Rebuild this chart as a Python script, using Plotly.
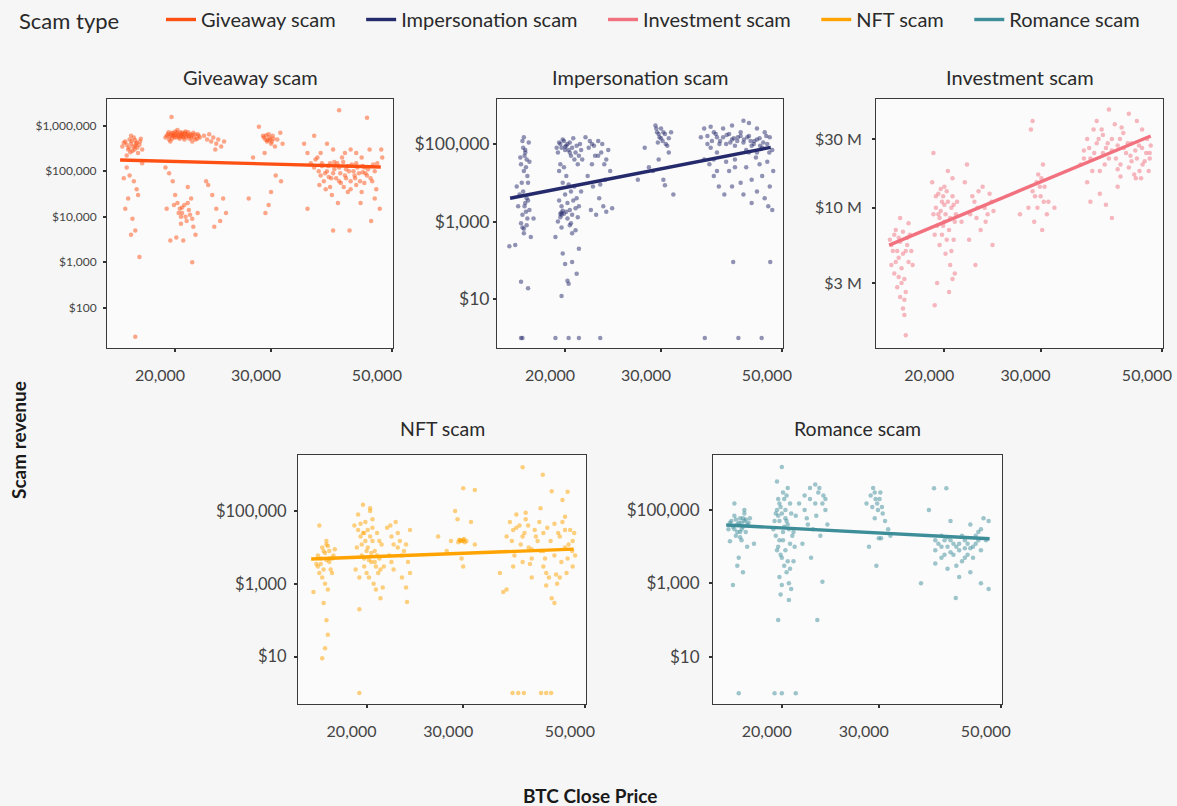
import plotly.graph_objects as go

# ---------------- data ----------------
scam_types = ["Giveaway scam", "Impersonation scam", "Investment scam", "NFT scam", "Romance scam"]
colors = ["#FF5014", "#252A6C", "#F2717F", "#FFA300", "#3E8E99"]

giveaway_pts = [
    (16000,350000),(16200,450000),(16400,300000),(16500,500000),(16600,400000),(16700,280000),(16800,550000),
    (16900,350000),(17000,420000),(17100,250000),(17200,380000),(17400,300000),(16300,220000),(16900,480000),
    (17300,520000),(16600,600000),(16300,120000),(16500,80000),(16800,60000),(17000,40000),(16400,25000),
    (16200,15000),(16700,9000),(16900,5000),(17100,30000),(16600,4000),(17200,1300),(16900,23),(17400,150000),
    (16100,70000),(16100,420000),(16300,380000),(16450,330000),(16650,460000),(16750,350000),(16850,300000),
    (17050,330000),(17250,450000),(16550,260000),(16950,400000),
    (19200,550000),(19400,650000),(19500,500000),(19700,700000),(19800,600000),(20000,750000),(20100,550000),
    (20300,650000),(20500,600000),(20600,700000),(20800,500000),(21000,650000),(21200,600000),(21400,550000),
    (21600,700000),(21800,500000),(19600,450000),(20200,800000),(20900,750000),(21500,450000),(19700,1550000),
    (22000,650000),(22200,550000),(19900,620000),(20400,520000),(20700,560000),
    (19300,600000),(19450,720000),(19550,580000),(19650,630000),(19750,520000),(19850,680000),(19950,560000),
    (20050,640000),(20150,700000),(20250,600000),(20350,560000),(20450,720000),(20550,650000),(20650,580000),
    (20750,640000),(20850,700000),(20950,560000),(21050,600000),(21150,720000),(21250,520000),(21350,650000),
    (21450,620000),(21650,560000),(21750,640000),(21950,520000),(22100,600000),
    (19200,120000),(19500,90000),(19800,60000),(20000,30000),(20200,20000),(20400,15000),(20600,12000),
    (20800,18000),(21000,8000),(21200,14000),(21400,25000),(21600,6000),(21800,4000),(19600,3000),(20100,3500),
    (20500,10000),(20700,3000),(21100,45000),(21500,9000),(19300,15000),(19900,18000),(22000,12000),(21500,1000),
    (20300,12000),(20600,16000),(20900,10000),(21100,20000),(21300,11000),(20500,7000),
    (22600,600000),(22900,500000),(23100,650000),(23300,450000),(23500,550000),(23800,400000),(24000,500000),
    (24300,350000),(24600,450000),(23700,300000),
    (23000,50000),(23400,30000),(23800,15000),(24200,8000),(24500,25000),(22800,60000),(24800,12000),(23600,6000),
    (27800,200000),(28500,950000),(29000,600000),(29300,500000),(29500,450000),(29800,550000),(30000,400000),
    (30200,600000),(30500,350000),(30800,500000),(31200,700000),(31500,400000),(29200,250000),(30600,80000),
    (30000,35000),(29300,12000),(29700,18000),(27300,25000),(31300,60000),
    (29100,550000),(29400,620000),(29600,480000),(29900,500000),(30100,450000),(30300,520000),(29700,650000),
    (34500,400000),(35000,250000),(35500,150000),(36000,120000),(36500,200000),(37000,80000),(37500,60000),
    (38000,100000),(38500,150000),(39000,90000),(39500,70000),(40000,120000),(40500,200000),(41000,80000),
    (41500,130000),(42000,60000),(42500,100000),(43000,150000),(43500,90000),(44000,200000),(44500,120000),
    (45000,80000),(45500,300000),(46000,60000),(46500,100000),(47000,150000),(36800,50000),(37800,40000),
    (38800,30000),(39800,20000),(40800,45000),(41800,5000),(43800,20000),(45800,8000),(47500,15000),
    (40000,2200000),(45000,1500000),(47800,300000),(36000,600000),(38000,400000),(42000,300000),(44000,35000),
    (35000,15000),(39000,5000),(46500,25000),(48000,200000),(41000,250000),(43000,50000),(37200,130000),
    (39200,160000),(41200,110000),(42800,70000),(44200,95000),(38300,75000),(40300,55000),
    (36200,180000),(36700,100000),(37200,150000),(37700,90000),(38200,130000),(38700,70000),(39200,110000),
    (39700,150000),(40200,90000),(40700,160000),(41200,70000),(41700,100000),(42200,140000),(42700,80000),
    (43200,120000),(43700,60000),(44200,130000),(44700,90000),(45200,110000),(45700,70000),(46200,140000),
    (37000,250000),(39000,300000),(43000,250000),(38500,45000),(41500,35000),(44500,55000),(46800,40000),
    (40000,60000),(42000,40000),
]

impersonation_pts = [
    (16800,150000),(16700,120000),(16900,60000),(17000,40000),(16600,30000),(16800,20000),(17100,10000),
    (16500,5000),(16900,3000),(17200,2000),(16700,1500),(16400,2500),(17000,800),(16800,500),(17300,400),
    (16200,250),(15800,230),(17500,1200),(16600,28),(17100,19),(16900,70000),(17200,35000),(16300,8000),
    (16700,700),(17000,4000),(16600,1),(16700,1),
    (16750,80000),(16850,50000),(16950,25000),(17050,15000),(16650,10000),(16750,6000),(16850,2500),
    (16950,1800),(17050,1200),(16600,900),(16800,650),(17100,3500),(16550,45000),(17150,110000),
    (19300,80000),(19600,100000),(19900,120000),(20100,90000),(20300,70000),(20500,50000),(20700,140000),
    (20900,60000),(21100,30000),(21300,100000),(21500,40000),(19500,20000),(19800,10000),(20000,5000),
    (20200,3000),(20400,2000),(20600,1500),(20800,8000),(21000,4000),(21200,2500),(21400,6000),(19400,1000),
    (19700,700),(20100,1800),(20500,900),(20900,600),(19200,400),(19800,150),(20000,80),(20200,30),(20600,90),
    (21000,45),(19700,12),(20300,25),(21200,200),(19200,1),(20300,1),(21200,1),(19600,1600),(19700,1700),
    (20000,85000),(20400,110000),
    (19400,60000),(19500,110000),(19700,80000),(19800,130000),(20000,70000),(20200,100000),(20400,60000),
    (20600,80000),(20800,40000),(21000,90000),(21200,50000),(21400,70000),(19600,30000),(19900,25000),
    (20100,15000),(20300,9000),(20500,6000),(20700,3500),(20900,2200),(21100,1300),(19500,3500),(19700,2500),
    (19900,1600),(20200,1200),(20400,800),(20600,500),(19600,1300),(19700,1500),(19800,1900),
    (21800,150000),(22100,80000),(22400,100000),(22700,50000),(23000,120000),(23300,60000),(23600,30000),
    (22000,15000),(22500,8000),(23100,4000),(23500,2500),(22300,2000),(23700,12000),(24000,70000),(22800,1500),
    (23200,1),(22200,120000),(22600,90000),(23000,50000),(23400,100000),(23800,40000),(24200,20000),
    (22400,30000),(23200,9000),(23800,1800),(24400,2200),
    (28000,80000),(28500,25000),(29300,300000),(29500,200000),(29800,150000),(30000,250000),(30200,120000),
    (30500,180000),(30800,90000),(31000,60000),(31300,200000),(29700,40000),(30300,12000),(31600,5000),
    (29000,20000),(27200,12000),(30500,8600),
    (29400,250000),(29700,180000),(30000,140000),(30300,200000),(30600,100000),(29600,110000),(31000,140000),
    (35500,150000),(36000,250000),(36500,100000),(37000,80000),(37500,200000),(38000,150000),(38500,120000),
    (39000,250000),(39500,100000),(40000,180000),(40500,130000),(41000,90000),(41500,150000),(42000,200000),
    (42500,110000),(43000,70000),(43500,160000),(44000,90000),(44500,120000),(45000,60000),(45500,140000),
    (46000,80000),(46500,200000),(47000,100000),(47500,150000),(48000,70000),(36800,30000),(37500,15000),
    (38300,8000),(39200,5000),(40000,20000),(41000,40000),(42000,10000),(43000,25000),(44000,3000),(45000,6000),
    (46000,15000),(47000,35000),(48000,2000),(47500,8000),(36000,40000),(38000,60000),(40500,300000),
    (43500,350000),(45000,250000),(37000,280000),(42500,400000),(40700,90),(47600,90),
    (36100,1),(41600,1),(45900,1),
    (36500,160000),(37200,120000),(37800,180000),(38400,100000),(39000,150000),(39600,170000),(40200,110000),
    (40800,140000),(41400,120000),(42000,160000),(42600,130000),(43200,150000),(43800,120000),(44400,100000),
    (45000,130000),(45600,90000),(46200,110000),(46800,160000),(47400,60000),(38000,20000),(39500,35000),
    (41000,25000),(42500,5000),(44000,12000),(45500,30000),(46500,4000),(47200,2500),(48200,20000),
    (37500,40000),(40500,8000),(43500,60000),(44800,45000),
]

investment_pts = [
    (15900,6000000),(16100,5000000),(16300,7000000),(16500,4500000),(16700,3800000),(16900,3200000),
    (17100,5500000),(17300,6500000),(17500,4000000),(16400,2800000),(16600,2400000),(16800,2000000),
    (17000,2600000),(16200,3500000),(16900,1800000),(17200,7800000),(16600,8500000),(16000,4000000),
    (17000,1300000),(17400,5000000),(16500,6200000),(16800,4800000),
    (16000,5500000),(16200,6500000),(16400,5000000),(16600,5800000),(16800,6800000),(17000,5000000),
    (17200,4200000),(16700,3000000),(16900,2300000),(16500,3300000),(16300,4200000),(17100,6200000),
    (19000,15000000),(19300,12000000),(19500,9000000),(19800,11000000),(20000,8000000),(20200,13000000),
    (20400,7000000),(20600,10000000),(20800,6000000),(21000,9000000),(19200,6500000),(19600,5500000),
    (20100,4800000),(20500,4000000),(20900,3500000),(19400,3000000),(20700,3200000),(19100,24000000),
    (20300,18000000),(20700,16000000),(19900,7500000),(19700,13500000),(21100,11000000),(19200,2100000),
    (20400,2600000),(19600,8500000),(20000,10500000),
    (19300,10000000),(19500,12500000),(19700,9500000),(19900,12000000),(20100,9000000),(20300,11000000),
    (20500,8500000),(20700,12000000),(20900,8000000),(19400,7500000),(19800,6500000),(20200,6000000),
    (20600,5000000),(19100,9000000),(20000,14000000),(20800,10500000),
    (22000,20000000),(22500,12000000),(23000,10000000),(23500,14000000),(24000,9000000),(24400,11000000),
    (21500,8000000),(22200,6000000),(23300,7000000),(21800,15000000),(24500,5500000),(22800,4000000),
    (23800,8000000),(22300,9000000),(22700,11000000),(23100,13000000),(23700,10000000),(24200,12500000),
    (22900,8500000),(24600,9500000),
    (27500,9000000),(28500,10000000),(29000,13000000),(29500,15000000),(30000,12000000),(30500,14000000),
    (31000,11000000),(29700,17000000),(29200,8000000),(30200,7000000),(28800,35000000),(30300,20000000),
    (31800,10000000),(30800,9000000),(29000,40000000),
    (29300,12000000),(29900,14000000),(30400,11000000),(30100,16000000),(29600,10000000),
    (35500,20000000),(36000,25000000),(36500,30000000),(37000,22000000),(37500,35000000),(38000,28000000),
    (38500,18000000),(39000,32000000),(39500,26000000),(40000,22000000),(40500,30000000),(41000,38000000),
    (41500,27000000),(42000,20000000),(42500,33000000),(43000,24000000),(43500,19000000),(44000,28000000),
    (44500,17000000),(45000,22000000),(45500,18000000),(46000,26000000),(46500,21000000),(47000,30000000),
    (47500,24000000),(37000,11000000),(38500,12500000),(39500,10500000),(40500,8500000),(36500,15000000),
    (41500,14000000),(43500,45000000),(40000,48000000),(38000,40000000),(44800,16000000),(46000,35000000),
    (42000,16500000),(47300,18000000),(45000,40000000),
    (36000,22000000),(36800,26000000),(37600,24000000),(38300,30000000),(39000,24000000),(39800,28000000),
    (40500,25000000),(41200,22000000),(41900,30000000),(42600,26000000),(43300,28000000),(44000,21000000),
    (44700,25000000),(45400,27000000),(46100,20000000),(46800,24000000),(47500,22000000),(37300,18000000),
    (39300,20000000),(41500,18500000),(43800,23000000),(45800,16000000),(47700,27000000),(38800,35000000),
    (42200,36000000),
]

nft_pts = [
    (16000,600),(16300,3000),(16500,5000),(16700,8000),(16900,12000),(17100,4000),(17300,2000),(16600,1500),
    (16800,1000),(17000,700),(17200,2500),(16400,40000),(16900,15000),(17400,6000),(16700,300),(16900,100),
    (17000,40),(16800,17),(16600,9),(17100,5000),(16200,3500),(17500,9000),
    (16300,6000),(16500,3500),(16700,2500),(16900,4500),(17100,8000),(16600,10000),(17000,11000),(17300,5000),
    (16800,7000),(16400,2000),
    (19000,40000),(19300,80000),(19500,20000),(19700,150000),(19900,50000),(20100,30000),(20300,100000),
    (20500,15000),(20700,8000),(20900,25000),(21100,5000),(21300,12000),(21500,3000),(19200,10000),(19600,6000),
    (19800,3000),(20000,2000),(20200,1500),(20400,4000),(20600,1000),(20800,700),(21000,2000),(21200,400),
    (19400,200),(20300,120000),(19800,25000),(20500,60000),(21400,800),(19100,2500),(19400,1),
    (19300,30000),(19500,45000),(19700,25000),(19900,15000),(20100,10000),(20300,20000),(20500,35000),
    (20700,4000),(20900,6000),(21100,15000),(19600,12000),(20000,8000),(20400,7000),(20800,3000),(21200,2500),
    (19800,5000),(20200,4500),(19400,1500),
    (21800,35000),(22200,20000),(22600,50000),(23000,15000),(23400,8000),(23800,4000),(22400,2500),(23200,1500),
    (23600,800),(22000,6000),(24000,30000),(23700,320),(22800,10000),(22100,40000),
    (22400,12000),(22800,25000),(23200,6000),(23600,12000),(24000,2000),(22200,4000),
    (27000,20000),(28500,15000),(29000,100000),(29300,60000),(29500,16000),(29700,15000),(30000,16000),
    (30200,14000),(30000,420000),(31500,380000),(31000,50000),(30000,3000),(29800,5000),(31500,12000),(28000,8000),
    (29600,16000),(29900,15000),(30100,17000),(30400,15000),(29400,14000),
    (35000,2000),(35500,600),(36000,700),(36500,50000),(37000,30000),(37500,80000),(38000,40000),(38500,20000),
    (39000,60000),(39500,10000),(40000,5000),(40500,30000),(41000,15000),(41500,8000),(42000,3000),(42500,2000),
    (43000,1500),(43500,400),(44000,300),(44500,1000),(45000,20000),(45500,50000),(46000,10000),(46500,5000),
    (47000,30000),(47500,3000),(48000,6000),(38500,1600000),(41900,1000000),(46500,340000),(43500,350000),
    (45500,200000),(37000,3000),(38500,4000),(40000,1500),(42000,25000),(44000,45000),(46000,70000),
    (39000,90000),(41500,120000),(47500,15000),(42500,900),(45000,1500),
    (36000,20000),(36800,15000),(37500,35000),(38200,12000),(38800,25000),(39400,40000),(40000,9000),
    (40700,20000),(41300,50000),(42000,8000),(42700,35000),(43300,15000),(44000,6000),(44700,25000),
    (45300,4000),(46000,30000),(46700,12000),(47400,8000),(37200,6000),(39700,3500),(42300,5000),(44300,1800),
    (46300,2000),(47800,25000),
    (36900,1),(37800,1),(38700,1),(41600,1),(42500,1),(43400,1),
]

romance_pts = [
    (16000,30000),(16200,50000),(16400,70000),(16600,40000),(16800,60000),(17000,35000),(17200,25000),
    (17400,45000),(16500,20000),(16900,15000),(17100,80000),(17300,10000),(16700,5000),(17500,60000),
    (16300,900),(16600,3000),(17000,2000),(17800,12000),(16400,150000),(17100,100000),(16800,25000),
    (16900,45000),(17200,55000),(16100,14000),(16700,1),
    (16100,45000),(16300,35000),(16500,55000),(16700,45000),(16900,30000),(17100,50000),(17300,40000),
    (16600,25000),(16800,18000),(17000,60000),(16400,30000),
    (19300,30000),(19500,80000),(19700,200000),(19900,120000),(20100,300000),(20300,60000),(20500,40000),
    (20700,150000),(20900,20000),(21100,10000),(19600,8000),(19800,15000),(20000,5000),(20200,3000),
    (20400,2000),(20600,1000),(20800,700),(19900,500),(21000,4000),(20100,25000),(20300,100000),(19800,50000),
    (20500,400000),(19600,600000),(20000,1500000),(21200,70000),(20700,12000),(20600,350),(19700,100),
    (21200,1),(20000,1),(19400,1),
    (19400,50000),(19600,100000),(19800,150000),(20000,80000),(20200,200000),(20400,50000),(20600,30000),
    (20800,80000),(21000,25000),(19500,20000),(19700,10000),(19900,6000),(20100,15000),(20300,8000),
    (20500,4000),(20700,2500),(19800,1500),(20000,900),(20200,35000),(20400,250000),(19700,70000),
    (21500,150000),(22000,250000),(22500,400000),(23000,500000),(23300,300000),(23700,150000),(24000,200000),
    (22200,60000),(22800,30000),(23500,20000),(21800,12000),(22600,5000),(24200,40000),(23200,100),(23700,1100),
    (22000,100000),(22500,200000),(23000,150000),(23400,400000),(23800,250000),(22300,40000),(23100,70000),
    (24000,100000),
    (28500,150000),(29000,250000),(29300,400000),(29600,200000),(29900,100000),(30200,300000),(30500,80000),
    (30800,50000),(31200,30000),(31500,20000),(29500,60000),(30000,17000),(28800,10000),(30300,17000),
    (29700,3000),(29200,120000),(29500,300000),(29800,150000),(30100,200000),(30400,120000),
    (35800,1000),(37800,390000),(39800,390000),(38000,8000),(38500,12000),(39000,5000),(39500,15000),
    (40000,10000),(40500,7000),(41000,12000),(41500,3000),(42000,8000),(42500,4000),(43000,15000),(43500,6000),
    (44000,2000),(44500,10000),(45000,20000),(45500,25000),(46000,30000),(46500,60000),(47000,15000),
    (47500,50000),(39000,20000),(40000,2500),(41400,400),(42000,1500),(38000,3500),(43000,9000),(46000,1000),
    (47500,700),(44000,40000),(40500,50000),(37000,100000),
    (38000,15000),(39000,10000),(40000,18000),(41000,6000),(42000,12000),(43000,5000),(44000,9000),
    (45000,12000),(46000,8000),(39500,6000),(40500,15000),(41500,10000),(42500,20000),(43500,12000),
    (44500,5000),(45500,15000),
]

trend_x = [15850, 47700]
trend_y = {
    "Giveaway scam": [176000, 124000],
    "Impersonation scam": [4000, 82000],
    "Investment scam": [5500000, 31500000],
    "NFT scam": [4800, 9000],
    "Romance scam": [39000, 16500],
}

x_tickvals = [20000, 30000, 50000]
x_ticktext = ["20,000", "30,000", "50,000"]
y_ticks = {
    "Giveaway scam": ([100, 1000, 10000, 100000, 1000000], ["$100", "$1,000", "$10,000", "$100,000", "$1,000,000"]),
    "Impersonation scam": ([10, 1000, 100000], ["$10", "$1,000", "$100,000"]),
    "Investment scam": ([3e6, 1e7, 3e7], ["$3 M", "$10 M", "$30 M"]),
    "NFT scam": ([10, 1000, 100000], ["$10", "$1,000", "$100,000"]),
    "Romance scam": ([10, 1000, 100000], ["$10", "$1,000", "$100,000"]),
}
y_ranges = {
    "Giveaway scam": [1.114, 6.587],
    "Impersonation scam": [-0.26, 6.16],
    "Investment scam": [6.026, 7.755],
    "NFT scam": [-0.30, 6.54],
    "Romance scam": [-0.29, 6.50],
}
points = {
    "Giveaway scam": giveaway_pts,
    "Impersonation scam": impersonation_pts,
    "Investment scam": investment_pts,
    "NFT scam": nft_pts,
    "Romance scam": romance_pts,
}

# ---------------- layout geometry (pixels) ----------------
W, H = 1177, 806
panels_px = {
    "Giveaway scam": (107, 393, 99, 348),
    "Impersonation scam": (497, 783, 99, 348),
    "Investment scam": (876, 1163, 99, 348),
    "NFT scam": (298, 586, 455, 704),
    "Romance scam": (713, 1002, 455, 704),
}
ytick_size = {"Giveaway scam": 12, "Impersonation scam": 17.5, "Investment scam": 16,
              "NFT scam": 16.5, "Romance scam": 17}
ytick_standoff = {"Giveaway scam": 4, "Impersonation scam": 0, "Investment scam": 7,
                  "NFT scam": 4, "Romance scam": 6}
title_y = {"Giveaway scam": 77, "Impersonation scam": 77, "Investment scam": 77,
           "NFT scam": 428, "Romance scam": 428}
title_size = {"Giveaway scam": 20, "Impersonation scam": 20, "Investment scam": 20,
              "NFT scam": 19.5, "Romance scam": 19.5}

FONT = "Lato"
NB = "\u00a0"
fig = go.Figure()
layout = dict()
annotations = []

for i, name in enumerate(scam_types, start=1):
    pts = points[name]
    xs = [p[0] for p in pts]
    ys = [p[1] for p in pts]
    xa = "x" if i == 1 else f"x{i}"
    ya = "y" if i == 1 else f"y{i}"
    fig.add_trace(go.Scatter(
        x=xs, y=ys, mode="markers", xaxis=xa, yaxis=ya,
        marker=dict(size=4.5, color=colors[i - 1], opacity=0.5, line=dict(width=0)),
        showlegend=False, legendgroup=name, hoverinfo="skip",
    ))
    fig.add_trace(go.Scatter(
        x=trend_x, y=trend_y[name], mode="lines", xaxis=xa, yaxis=ya,
        line=dict(color=colors[i - 1], width=3.4), name=name + NB * 4, legendgroup=name,
    ))
    x0, x1, y0, y1 = panels_px[name]
    axcommon = dict(showline=True, mirror=True, linecolor="#3a3a3a", linewidth=1,
                    ticks="outside", ticklen=3, tickwidth=1.5, tickcolor="#333",
                    showgrid=False, zeroline=False)
    layout["xaxis" if i == 1 else f"xaxis{i}"] = dict(
        type="log", range=[4.176, 4.701], domain=[x0 / W, x1 / W], anchor=ya,
        tickvals=x_tickvals, ticktext=x_ticktext, ticklabelshift=-15, ticklabelstandoff=10,
        tickfont=dict(family=FONT, size=16, color="#444"), **axcommon)
    tv, tt = y_ticks[name]
    layout["yaxis" if i == 1 else f"yaxis{i}"] = dict(
        type="log", range=y_ranges[name], domain=[1 - y1 / H, 1 - y0 / H], anchor=xa,
        tickvals=tv, ticktext=tt, ticklabelstandoff=ytick_standoff[name],
        tickfont=dict(family=FONT, size=ytick_size[name], color="#444"), **axcommon)
    annotations.append(dict(
        text=name, x=(x0 + x1) / 2 / W, y=1 - title_y[name] / H, xref="paper", yref="paper",
        showarrow=False, xanchor="center", yanchor="middle",
        font=dict(family=FONT, size=title_size[name], color="#2a2a2a")))

annotations.append(dict(text="<b>BTC Close Price</b>", x=590 / W, y=1 - 795 / H, xref="paper", yref="paper",
                        showarrow=False, xanchor="center", yanchor="middle",
                        font=dict(family=FONT, size=19, color="#1a1a1a")))
annotations.append(dict(text="<b>Scam revenue</b>", x=18 / W, y=1 - 440 / H, xref="paper", yref="paper",
                        showarrow=False, xanchor="center", yanchor="middle", textangle=-90,
                        font=dict(family=FONT, size=19, color="#1a1a1a")))

fig.update_layout(
    width=W, height=H,
    margin=dict(l=0, r=0, t=0, b=0, autoexpand=False),
    paper_bgcolor="#f6f6f6", plot_bgcolor="#fbfbfb",
    annotations=annotations,
    legend=dict(orientation="h", x=17 / W, y=1.0, xanchor="left", yanchor="top",
                title=dict(text="Scam type" + NB * 6, font=dict(family=FONT, size=22, color="#2a2a2a")),
                font=dict(family=FONT, size=20, color="#2a2a2a"),
                bgcolor="rgba(0,0,0,0)", itemwidth=30),
    **layout,
)

fig.write_html("out.html", config={"displayModeBar": False},
               post_script="document.body.style.margin='0px';")
